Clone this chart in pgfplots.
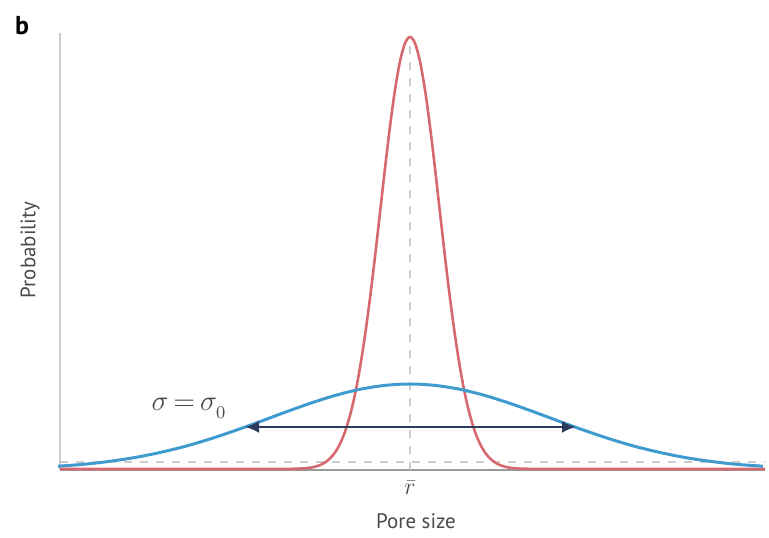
\documentclass[border=0pt]{standalone}
\usepackage{fontspec}
\setmainfont{PT Sans}
\usepackage{pgfplots}
\pgfplotsset{compat=1.18}
\usetikzlibrary{arrows.meta}
\definecolor{peakred}{HTML}{D66870}
\definecolor{wideblue}{HTML}{3F9BCF}
\definecolor{arrownavy}{HTML}{2B3C5C}
\definecolor{txtgray}{HTML}{4A4A4A}
\begin{document}
\begin{tikzpicture}
\begin{axis}[
    x=0.5bp, y=0.5bp,
    xmin=-350, xmax=355,
    ymin=0, ymax=437,
    axis lines*=left,
    axis line style={-},
    x axis line style={draw=gray!80, line width=0.6pt},
    y axis line style={draw=gray!40, line width=1.4pt},
    xtick=\empty, ytick=\empty,
    clip=false,
]
% reference lines
\addplot[gray!40, line width=0.6pt, dash pattern=on 4bp off 4bp] coordinates {(-350,8) (355,8)};
\addplot[gray!40, line width=0.6pt, dash pattern=on 4bp off 4bp] coordinates {(0,0) (0,432)};

% narrow distribution
\addplot[peakred, line width=1.3pt, smooth, tension=0.5] coordinates {
    (-350,1) (-200,1) (-130,1.1) (-110,1.4) (-100,2.3) (-95,3.3) (-90,4.9) (-85,7.5) (-80,11.6)
    (-75,17.5) (-70,26.2) (-65,38.2) (-60,54.5) (-55,75.7) (-50,102.4) (-45,134.5)
    (-40,171.8) (-35,213.2) (-30,257.3) (-25,301.7) (-20,343.6) (-15,380.1)
    (-10,408.6) (-5,426.8) (0,433)
    (5,426.8) (10,408.6) (15,380.1) (20,343.6) (25,301.7) (30,257.3) (35,213.2)
    (40,171.8) (45,134.5) (50,102.4) (55,75.7) (60,54.5) (65,38.2) (70,26.2)
    (75,17.5) (80,11.6) (85,7.5) (90,4.9) (95,3.3) (100,2.3) (110,1.4) (130,1.1) (200,1) (355,1)
};

% wide distribution
\addplot[wideblue, line width=1.5pt, smooth] coordinates {
    (-352,3.8) (-325,5.8) (-300,8.7) (-275,12.5) (-250,17.5) (-225,23.6) (-200,31.0)
    (-175,39.4) (-150,48.4) (-125,57.7) (-100,66.6) (-75,74.5) (-50,80.7) (-25,84.6)
    (0,86) (25,84.6) (50,80.7) (75,74.5) (100,66.6) (125,57.7) (150,48.4) (175,39.4)
    (200,31.0) (225,23.6) (250,17.5) (275,12.5) (300,8.7) (325,5.8) (353,3.8)
};

% width arrow
\addplot[arrownavy, line width=1.3pt, {Latex[length=7bp,width=6bp]}-{Latex[length=7bp,width=6bp]}] coordinates {(-165,43) (166,43)};

\node[txtgray, font=\fontsize{13.5}{15}\selectfont] at (axis cs:-221,62) {$\sigma\,{=}\,\sigma_{\raisebox{-2pt}{$\scriptstyle 0$}}$};
\node[txtgray, font=\fontsize{13}{15}\selectfont] at (axis cs:0,-18) {$\bar{r}$};
\node[txtgray, font=\fontsize{10.5}{12}\selectfont] at (axis cs:6,-51) {Pore size};
\node[txtgray, font=\fontsize{10.5}{12}\selectfont, rotate=90] at (axis cs:-380,220) {Probability};
\node[black, font=\fontsize{13}{15}\selectfont\bfseries] at (axis cs:-388,444) {b};

\coordinate (bl) at (axis cs:-410,-68);
\coordinate (tr) at (axis cs:359,470);
\end{axis}
\pgfresetboundingbox
\path[use as bounding box] (bl) rectangle (tr);
\end{tikzpicture}
\end{document}
